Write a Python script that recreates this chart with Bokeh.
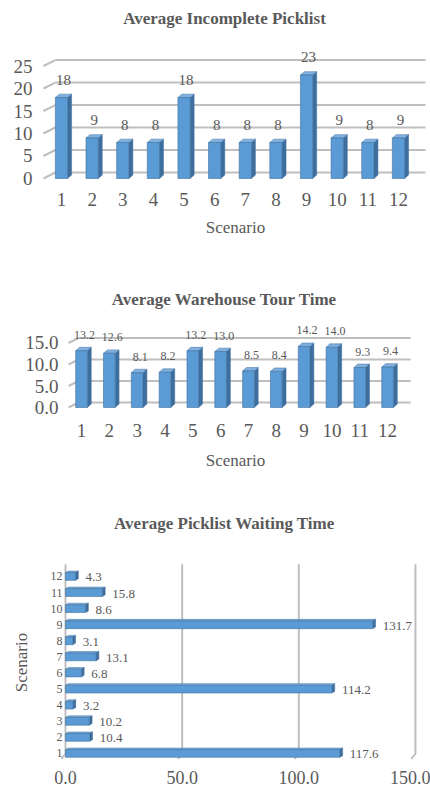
from bokeh.plotting import figure
from bokeh.layouts import column
from bokeh.models import Range1d, FixedTicker, PrintfTickFormatter, Label
from bokeh.core.properties import value
from bokeh.embed import file_html
from bokeh.resources import INLINE

# ---------------- data ----------------
scenarios = [1, 2, 3, 4, 5, 6, 7, 8, 9, 10, 11, 12]
incomplete_picklist = [18, 9, 8, 8, 18, 8, 8, 8, 23, 9, 8, 9]
tour_time = [13.2, 12.6, 8.1, 8.2, 13.2, 13.0, 8.5, 8.4, 14.2, 14.0, 9.3, 9.4]
waiting_time = [117.6, 10.4, 10.2, 3.2, 114.2, 6.8, 13.1, 3.1, 131.7, 8.6, 15.8, 4.3]
ticks_incomplete = [0, 5, 10, 15, 20, 25]
ticks_tour = [0, 5, 10, 15]
ticks_waiting = [0, 50, 100, 150]
titles = ["Average Incomplete Picklist", "Average Warehouse Tour Time", "Average Picklist Waiting Time"]
axis_title = "Scenario"

# ---------------- style ----------------
FONT = "Liberation Serif, Times New Roman, serif"
TXT = "#595959"
GRID = "#BFBFBF"
FRONT = "#5B9BD5"
SIDE = "#3E6E9E"
TOPC = "#7FB0E0"
EDGE = "#41719C"
W = 430
LEFT = 42
RIGHT = 2


def base_fig(height, xr, yr, bottom, top=0):
    p = figure(width=W, height=height, x_range=xr, y_range=yr,
               output_backend="svg", toolbar_location=None,
               min_border_left=LEFT, min_border_right=RIGHT,
               min_border_top=top, min_border_bottom=bottom)
    p.outline_line_color = None
    p.xgrid.visible = False
    p.ygrid.visible = False
    for ax in (p.xaxis[0], p.yaxis[0]):
        ax.axis_line_color = None
        ax.major_tick_line_color = None
        ax.minor_tick_line_color = None
        ax.major_tick_out = 0
        ax.major_tick_in = 0
        ax.major_label_text_font = FONT
        ax.major_label_text_color = TXT
        ax.axis_label_text_font = FONT
        ax.axis_label_text_color = TXT
        ax.axis_label_text_font_style = "normal"
    return p


def add_title(p, text, x, y):
    p.add_layout(Label(x=x, y=y, text=text, text_font=FONT, text_font_style="bold",
                       text_color=TXT, text_font_size="17px",
                       text_align="center", text_baseline="middle"))


def bars3d(p, xs, vals, w, dx, dy):
    sx, sy, tx, ty = [], [], [], []
    for x, v in zip(xs, vals):
        r = x + w / 2
        l = x - w / 2
        sx.append([r, r + dx, r + dx, r])
        sy.append([0, dy, v + dy, v])
        tx.append([l, r, r + dx, l + dx])
        ty.append([v, v, v + dy, v + dy])
    p.patches(sx, sy, fill_color=SIDE, line_color=SIDE, line_width=0.5)
    p.patches(tx, ty, fill_color=TOPC, line_color=EDGE, line_width=0.5)
    p.vbar(x=xs, top=vals, bottom=0, width=w, fill_color=FRONT, line_color=EDGE, line_width=0.6)


def back_grid_h(p, ticks, x0, x1, x2, gdy):
    n = len(ticks)
    back = [t + gdy for t in ticks]
    p.segment(x0=[x0] * n, y0=ticks, x1=[x1] * n, y1=back, line_color=GRID, line_width=2)
    p.segment(x0=[x1] * n, y0=back, x1=[x2] * n, y1=back, line_color=GRID, line_width=2)


# ---------------- panel 1 ----------------
p1 = base_fig(266, Range1d(0.38, 12.98), Range1d(-0.89, 39.56), 84)
add_title(p1, titles[0], 6.32, 35.6)
back_grid_h(p1, ticks_incomplete, 0.41, 0.80, 12.88, 1.33)
bars3d(p1, scenarios, incomplete_picklist, 0.40, 0.13, 0.75)
p1.text(x=scenarios, y=incomplete_picklist, text=[str(v) for v in incomplete_picklist],
        text_font=value(FONT), text_font_size="15px", text_color=TXT,
        text_align="center", text_baseline="middle", x_offset=2, y_offset=-18)
p1.yaxis.ticker = FixedTicker(ticks=ticks_incomplete)
p1.yaxis.major_label_text_font_size = "19px"
p1.yaxis.major_label_standoff = 10
p1.xaxis.ticker = FixedTicker(ticks=scenarios)
p1.xaxis.major_label_text_font_size = "19px"
p1.xaxis.major_label_standoff = 10
p1.xaxis.axis_label = axis_title
p1.xaxis.axis_label_text_font_size = "17px"
p1.xaxis.axis_label_standoff = 9

# ---------------- panel 2 ----------------
p2 = base_fig(234, Range1d(-0.402, 13.47), Range1d(-0.93, 32.79), 89)
add_title(p2, titles[1], 6.14, 25.2)
back_grid_h(p2, ticks_tour, 0.533, 0.892, 12.83, 1.16)
bars3d(p2, scenarios, tour_time, 0.42, 0.14, 0.8)
p2.text(x=scenarios, y=tour_time, text=["%.1f" % v for v in tour_time],
        text_font=value(FONT), text_font_size="12px", text_color=TXT,
        text_align="center", text_baseline="middle", x_offset=3, y_offset=-16)
p2.yaxis.ticker = FixedTicker(ticks=ticks_tour)
p2.yaxis.formatter = PrintfTickFormatter(format="%.1f")
p2.yaxis.major_label_text_font_size = "19px"
p2.yaxis.major_label_standoff = -16
p2.xaxis.ticker = FixedTicker(ticks=scenarios)
p2.xaxis.major_label_text_font_size = "19px"
p2.xaxis.major_label_standoff = 12
p2.xaxis.axis_label = axis_title
p2.xaxis.axis_label_text_font_size = "17px"
p2.xaxis.axis_label_standoff = 11

# ---------------- panel 3 title strip ----------------
t3 = figure(width=W, height=45, x_range=Range1d(0, 1), y_range=Range1d(0, 1),
            output_backend="svg", toolbar_location=None,
            x_axis_location=None, y_axis_location=None,
            min_border_left=LEFT, min_border_right=RIGHT, min_border_top=0, min_border_bottom=0)
t3.outline_line_color = None
t3.xgrid.visible = False
t3.ygrid.visible = False
add_title(t3, titles[2], 0.4715, 0.5)

# ---------------- panel 3 ----------------
p3 = base_fig(247, Range1d(-9.86, 155.6), Range1d(0.44, 12.87), 30, top=17)
n = len(ticks_waiting)
p3.segment(x0=ticks_waiting, y0=[12.76] * n, x1=ticks_waiting, y1=[0.97] * n,
           line_color=GRID, line_width=2)
p3.segment(x0=ticks_waiting, y0=[0.97] * n, x1=[t - 1.8 for t in ticks_waiting], y1=[0.66] * n,
           line_color=GRID, line_width=2)
h = 0.48
dxh, dyh = 1.2, 0.1
rx, ry, ux, uy = [], [], [], []
for y, v in zip(scenarios, waiting_time):
    top = y + h / 2
    bot = y - h / 2
    rx.append([v, v + dxh, v + dxh, v])
    ry.append([bot, bot + dyh, top + dyh, top])
    ux.append([0, v, v + dxh, dxh])
    uy.append([top, top, top + dyh, top + dyh])
p3.patches(ux, uy, fill_color=TOPC, line_color=EDGE, line_width=0.5)
p3.patches(rx, ry, fill_color=SIDE, line_color=SIDE, line_width=0.5)
p3.hbar(y=scenarios, right=waiting_time, left=0, height=h, fill_color=FRONT,
        line_color=EDGE, line_width=0.6)
p3.text(x=waiting_time, y=scenarios, text=["%.1f" % v for v in waiting_time],
        text_font=value(FONT), text_font_size="13px", text_color=TXT,
        text_align="left", text_baseline="middle", x_offset=10, y_offset=1)
p3.xaxis.ticker = FixedTicker(ticks=ticks_waiting)
p3.xaxis.formatter = PrintfTickFormatter(format="%.1f")
p3.xaxis.major_label_text_font_size = "18px"
p3.xaxis.major_label_standoff = 8
p3.yaxis.ticker = FixedTicker(ticks=scenarios)
p3.yaxis.major_label_text_font_size = "12px"
p3.yaxis.major_label_standoff = -20
p3.yaxis.axis_label = axis_title
p3.yaxis.axis_label_text_font_size = "17px"
p3.yaxis.axis_label_standoff = 17

layout = column(p1, p2, t3, p3, spacing=0)
open("out.html", "w").write(file_html(layout, INLINE))
